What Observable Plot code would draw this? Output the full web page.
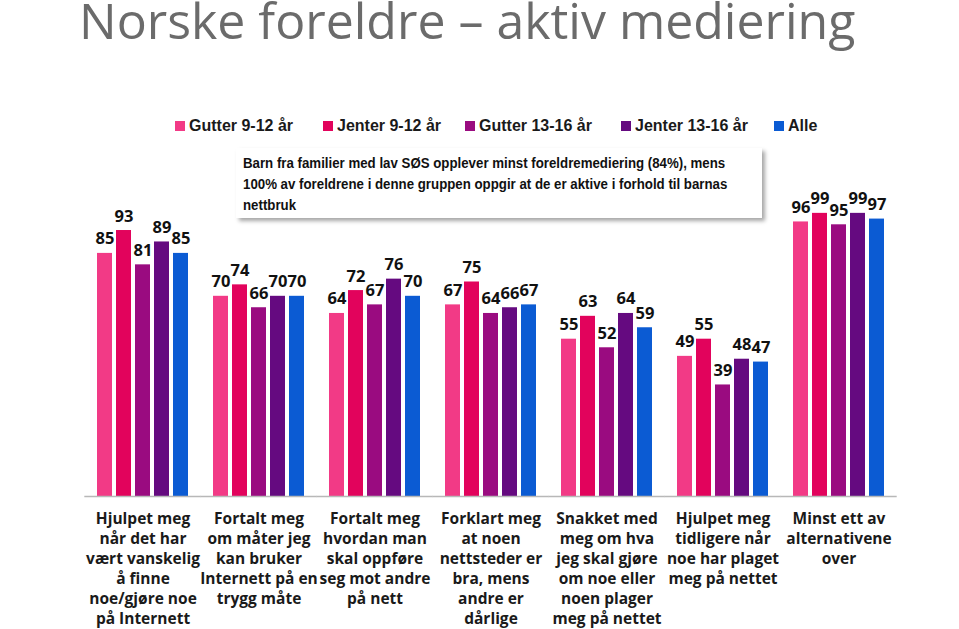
<!DOCTYPE html>
<html><head><meta charset="utf-8">
<script src="https://cdn.jsdelivr.net/npm/d3@7"></script>
<script src="https://cdn.jsdelivr.net/npm/@observablehq/plot@0.6"></script>
<style>
body{margin:0;background:#fff;width:959px;height:629px;position:relative;overflow:hidden;font-family:"Open Sans",sans-serif}
#title{position:absolute;left:79px;top:0;font-size:50px;line-height:40px;color:#6b6b6b;white-space:nowrap;font-family:"Open Sans",sans-serif}
.leg{position:absolute;top:117px;height:18px;font:bold 16px "Liberation Sans",Arial,sans-serif;color:#1a1a1a;white-space:nowrap;display:flex;align-items:center}
.leg i{display:inline-block;width:10px;height:10px;margin-right:4px}
#note{position:absolute;left:236px;top:148px;width:526px;height:70px;box-sizing:border-box;padding:5px 0 0 7px;background:#fff;box-shadow:3px 3px 4px rgba(0,0,0,0.35);color:#111;z-index:2}
#note span{display:block;white-space:nowrap;font:bold 14.5px/21px "Liberation Sans",Arial,sans-serif;transform:scaleX(0.915);transform-origin:left center}
#chart{position:absolute;left:0;top:140px}
</style></head>
<body>
<div id="title">Norske foreldre – aktiv mediering</div>
<div id="legend"></div>
<div id="note"><span>Barn fra familier med lav SØS opplever minst foreldremediering (84%), mens</span><span>100% av foreldrene i denne gruppen oppgir at de er aktive i forhold til barnas</span><span>nettbruk</span></div>
<div id="chart"></div>
<script>
const categories = [
  "Hjulpet meg\nnår det har\nvært vanskelig\nå finne\nnoe/gjøre noe\npå Internett",
  "Fortalt meg\nom måter jeg\nkan bruker\nInternett på en\ntrygg måte",
  "Fortalt meg\nhvordan man\nskal oppføre\nseg mot andre\npå nett",
  "Forklart meg\nat noen\nnettsteder er\nbra, mens\nandre er\ndårlige",
  "Snakket med\nmeg om hva\njeg skal gjøre\nom noe eller\nnoen plager\nmeg på nettet",
  "Hjulpet meg\ntidligere når\nnoe har plaget\nmeg på nettet",
  "Minst ett av\nalternativene\nover"
];
const series = ["Gutter 9-12 år","Jenter 9-12 år","Gutter 13-16 år","Jenter 13-16 år","Alle"];
const colors = ["#f23a86","#e2035c","#9a0b80","#650a80","#0b5bd3"];
const gutter912 = [85,70,64,67,55,49,96];
const jenter912 = [93,74,72,75,63,55,99];
const gutter1316 = [81,66,67,64,52,39,95];
const jenter1316 = [89,70,76,66,64,48,99];
const alle = [85,70,70,67,59,47,97];
const legendX = [175,323,465,621,774];

const valuesBySeries = [gutter912, jenter912, gutter1316, jenter1316, alle];
const data = categories.flatMap((c,i)=>series.map((s,j)=>({category:c, series:s, value:valuesBySeries[j][i]})));

const leg = document.getElementById("legend");
series.forEach((s,j)=>{
  const d = document.createElement("div");
  d.className = "leg";
  d.style.left = legendX[j] + "px";
  d.innerHTML = `<i style="background:${colors[j]}"></i>${s}`;
  leg.appendChild(d);
});

const chart = Plot.plot({
  width:959, height:489, marginLeft:83, marginRight:61, marginTop:70, marginBottom:133,
  style:{fontFamily:"Open Sans", background:"transparent", overflow:"visible"},
  fx:{domain:categories, paddingInner:0.2, paddingOuter:0.1, axis:null},
  x:{domain:series, paddingInner:0.2, paddingOuter:0, axis:null},
  y:{domain:[0,100], axis:null},
  color:{domain:series, range:colors},
  marks:[
    Plot.barY(data,{fx:"category",x:"series",y:"value",fill:"series"}),
    Plot.ruleY(categories.map(c=>({category:c})),{fx:"category",y:()=>0,stroke:"#b8b8b8",strokeWidth:1.5,insetLeft:-11.7,insetRight:-11.7}),
    Plot.text(data,{fx:"category",x:"series",y:"value",text:d=>String(d.value),lineAnchor:"bottom",dy:-9,fontSize:16.5,fontWeight:"bold",fill:"#111"}),
    Plot.text(categories,{fx:d=>d,text:d=>d,frameAnchor:"bottom",lineAnchor:"top",dy:13,fontSize:15.5,fontWeight:"bold",lineHeight:1.29,fill:"#1a1a1a"})
  ]
});
document.getElementById("chart").appendChild(chart);
</script>
</body></html>
